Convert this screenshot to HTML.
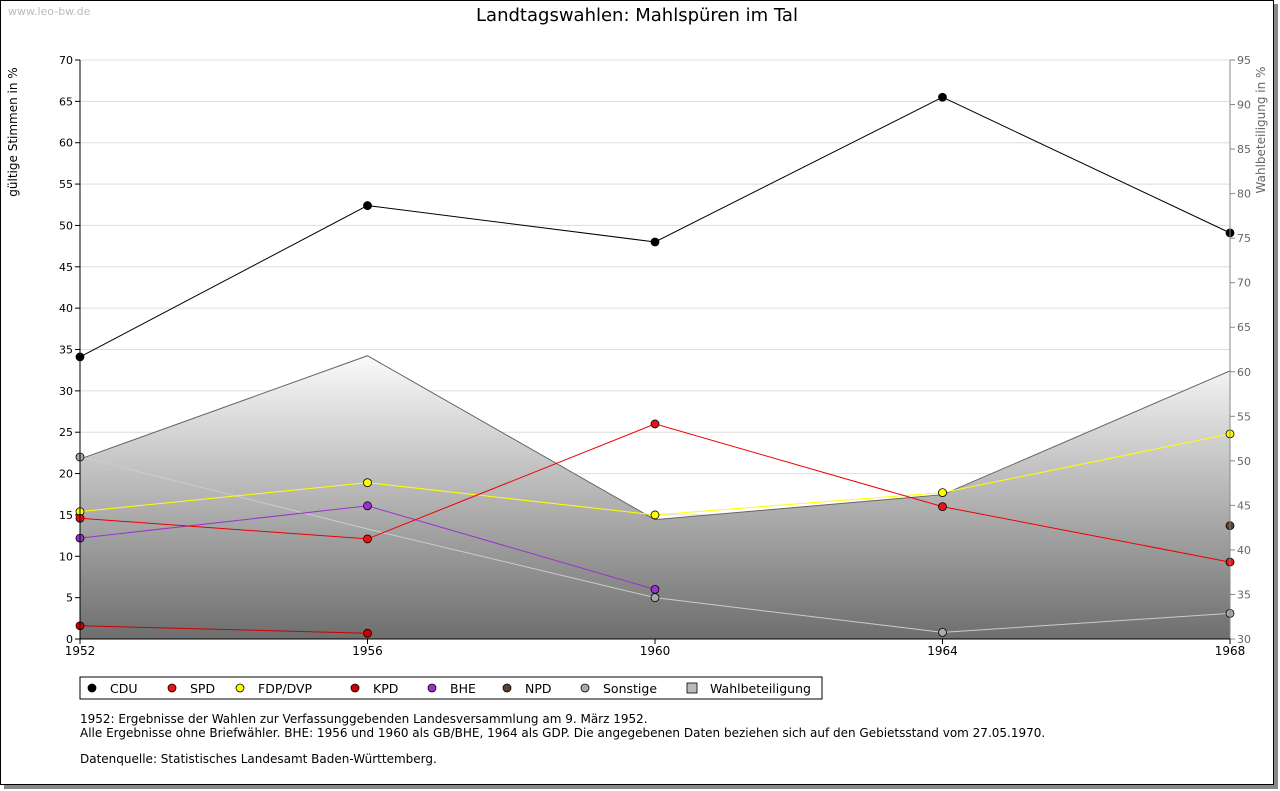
<!DOCTYPE html>
<html><head><meta charset="utf-8"><style>
body{margin:0;background:#fff;font-family:"DejaVu Sans",Verdana,sans-serif}
#frame{position:absolute;left:0;top:0;width:1272px;height:783px;border:1px solid #000;box-shadow:4px 4px 0 #888;background:#fff}
</style></head><body>
<div id="frame"></div>
<svg id="c" width="1280" height="791" style="position:absolute;left:0;top:0" font-family="DejaVu Sans, Verdana, sans-serif">
<defs><linearGradient id="g" x1="0" y1="0" x2="0" y2="1"><stop offset="0" stop-color="#fafafa"/><stop offset="1" stop-color="#6e6e6e"/></linearGradient></defs>
<text x="8" y="15" font-size="11" fill="#bbb">www.leo-bw.de</text>
<text x="637" y="21" font-size="18" text-anchor="middle">Landtagswahlen: Mahlspüren im Tal</text>
<text transform="translate(17,132) rotate(-90)" font-size="12" text-anchor="middle">gültige Stimmen in %</text>
<text transform="translate(1265,130) rotate(-90)" font-size="12" fill="#666" text-anchor="middle">Wahlbeteiligung in %</text>
<g id="plot"></g>
<text x="80" y="723" font-size="12">1952: Ergebnisse der Wahlen zur Verfassunggebenden Landesversammlung am 9. März 1952.</text>
<text x="80" y="737" font-size="12">Alle Ergebnisse ohne Briefwähler. BHE: 1956 und 1960 als GB/BHE, 1964 als GDP. Die angegebenen Daten beziehen sich auf den Gebietsstand vom 27.05.1970.</text>
<text x="80" y="763" font-size="12">Datenquelle: Statistisches Landesamt Baden-Württemberg.</text>
</svg>
<script>
const years=[1952,1956,1960,1964,1968];
const turnout=[50.2,61.8,43.4,46.2,60.1];
const cdu=[34.1,52.4,48.0,65.5,49.1];
const spd=[14.6,12.1,26.0,16.0,9.3];
const fdp=[15.4,18.9,15.0,17.7,24.8];
const kpd=[1.6,0.7,null,null,null];
const bhe=[12.2,16.1,6.0,null,null];
const npd=[null,null,null,null,13.7];
const sonst=[22.0,13.3,5.0,0.8,3.1];
const leftTicks=[0,5,10,15,20,25,30,35,40,45,50,55,60,65,70];
const rightTicks=[30,35,40,45,50,55,60,65,70,75,80,85,90,95];
const NS="http://www.w3.org/2000/svg";
const X0=80,X1=1230,YB=639,YT=60;
const x=y=>X0+(y-1952)/(1968-1952)*(X1-X0);
const yl=v=>YB-v/70*(YB-YT);
const yr=v=>YB-(v-30)/65*(YB-YT);
const g=document.getElementById('plot');
function mk(t,a){const e=document.createElementNS(NS,t);for(const k in a)e.setAttribute(k,a[k]);g.appendChild(e);return e;}
leftTicks.forEach(t=>{
 if(t>0){const l=mk('line',{x1:X0,x2:X1,y1:yl(t),y2:yl(t),stroke:'#ddd'});}
 mk('line',{x1:X0-5,x2:X0,y1:yl(t),y2:yl(t),stroke:'#000'});
 const tx=mk('text',{x:X0-7,y:yl(t)+4,'font-size':11,'text-anchor':'end'});tx.textContent=t;
 
});
rightTicks.forEach(t=>{
 mk('line',{x1:X1,x2:X1+5,y1:yr(t),y2:yr(t),stroke:'#888'});
 const tx=mk('text',{x:X1+7,y:yr(t)+4,'font-size':11,fill:'#666'});tx.textContent=t;
 
});
let d='M'+x(years[0])+','+YB;years.forEach((y,i)=>d+=' L'+x(y)+','+yr(turnout[i]));d+=' L'+x(1968)+','+YB+'Z';
const ar=mk('path',{d:d,fill:'url(#g)',stroke:'#666'});

function series(vals,col,name,lineCol,skip){
 let pts=[];vals.forEach((v,i)=>{if(v!==null)pts.push([x(years[i]),yl(v)]);});
 if(pts.length>1){const p=mk('polyline',{points:pts.map(p=>p.join(',')).join(' '),fill:'none',stroke:lineCol||col,'stroke-width':1});
 }
 pts.forEach((p,i)=>{if(skip&&skip.includes(i))return;const m=mk('circle',{cx:p[0],cy:p[1],r:4,fill:col,stroke:'#000','stroke-width':0.8});
 });
}
series(sonst,'#aaa','sonstige','#ccc',[1]);
series(kpd,'#cc0000','kpd','#cc0000');
series(bhe,'#9933cc','bhe');
series(npd,'#5a4030','npd');
series(fdp,'#ffff00','fdp-dvp');
series(spd,'#ee1111','spd','#ee0000');
series(cdu,'#000','cdu');
mk('line',{x1:X0,x2:X0,y1:YT,y2:YB,stroke:'#000'});
mk('line',{x1:X1,x2:X1,y1:YT,y2:YB,stroke:'#888'});
mk('line',{x1:X0,x2:X1,y1:YB,y2:YB,stroke:'#000'});
years.forEach(y=>{mk('line',{x1:x(y),x2:x(y),y1:YB,y2:YB+5,stroke:'#000'});
 const tx=mk('text',{x:x(y),y:YB+16,'font-size':12,'text-anchor':'middle'});tx.textContent=y;
 });
const lb=mk('rect',{x:80,y:677,width:742,height:22,fill:'#fff',stroke:'#000'});

const leg=[['CDU','#000',92],['SPD','#ee1111',172],['FDP/DVP','#ffff00',240],['KPD','#cc0000',355],['BHE','#9933cc',432],['NPD','#5a4030',507],['Sonstige','#aaa',585],['Wahlbeteiligung','#bbb',692]];
leg.forEach((l,i)=>{
 if(i==7){const s=mk('rect',{x:l[2]-5,y:683,width:10,height:10,fill:l[1],stroke:'#000','stroke-width':0.8});}
 else{const c=mk('circle',{cx:l[2],cy:688,r:4,fill:l[1],stroke:'#000','stroke-width':0.8});}
 const t=mk('text',{x:l[2]+18,y:693,'font-size':12.5});t.textContent=l[0];
 
});
</script>
</body></html>
